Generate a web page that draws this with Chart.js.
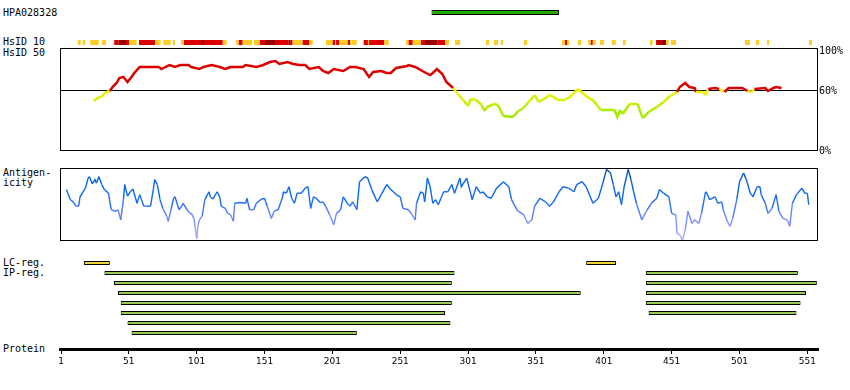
<!DOCTYPE html>
<html><head><meta charset="utf-8"><title>HPA028328</title>
<script src="https://cdn.jsdelivr.net/npm/chart.js@4.4.1/dist/chart.umd.min.js"></script>
<style>
html,body{margin:0;padding:0;background:#fff}
#wrap{position:relative;width:850px;height:390px;overflow:hidden;background:#fff}
.lbl{position:absolute;left:3px;font-family:"DejaVu Sans Mono",monospace;font-size:10px;line-height:12px;height:12px;color:#000;white-space:pre}
canvas{position:absolute;display:block}
</style></head><body><div id="wrap">
<div class="lbl" style="top:7px">HPA028328</div>
<div class="lbl" style="top:36px">HsID 10</div>
<div class="lbl" style="top:47px">HsID 50</div>
<div class="lbl" style="top:167px">Antigen-</div>
<div class="lbl" style="top:177px">icity</div>
<div class="lbl" style="top:257px">LC-reg.</div>
<div class="lbl" style="top:267px">IP-reg.</div>
<div class="lbl" style="top:343px">Protein</div>
<canvas id="cTop" width="758" height="48" style="left:60px;top:0px"></canvas>
<canvas id="cHs" width="790" height="124" style="left:60px;top:38px"></canvas>
<canvas id="cAnt" width="758" height="74" style="left:60px;top:168px"></canvas>
<canvas id="cReg" width="790" height="140" style="left:40px;top:250px"></canvas>
</div>
<script>
// ---------------- data ----------------
const hpaAntigen = [274, 368];               // antigen fragment (residues)
// HsID 10 identity segments: [start, end, level] level 1=yellow 2=red 3=dark red
const hsid10 = [[13.3,15.5,1],[17,18.9,1],[22.6,28.8,1],[31.2,34.2,1],[39.5,40.3,1],[40.3,43.5,2],[43.5,48.9,3],[48.9,51.3,2],[51.3,56.8,1],[58.5,70.3,2],[70.3,74.5,1],[76.4,81.8,1],[83.5,85,1],[89.4,91.6,1],[91.6,104.2,2],[104.2,106.4,3],[106.4,120.2,2],[120.2,123.1,1],[130,132,1],[132,134.9,2],[134.9,141.8,1],[143.2,147.6,1],[147.6,151.3,2],[151.3,158.7,3],[158.7,168.5,2],[168.5,169.8,3],[169.8,171.7,2],[171.7,179.1,1],[179.1,184,2],[184,186.5,1],[196.3,201.2,1],[201.2,202.9,2],[202.9,203.7,1],[203.7,205.9,2],[205.9,212.3,1],[212.3,214,2],[214,215,1],[215.4,218.9,1],[223.5,224.2,1],[224.2,227.2,2],[227.2,228,1],[228,239.2,2],[239.2,242.5,1],[255.2,257.2,1],[257.2,260.2,2],[260.2,266.3,1],[266.3,269.2,2],[269.2,278.6,3],[278.6,284,2],[284,286.9,1],[291.3,295,1],[314.2,316.4,1],[320.1,323,1],[325.2,326.7,1],[342.2,344.4,1],[370.2,372.4,1],[372.4,373.9,2],[373.9,375.4,1],[382,384.2,1],[389.4,391.4,1],[391.4,392.9,2],[392.9,395.1,1],[398.2,401.2,1],[407,409.8,1],[415.1,417.1,1],[435,437,1],[439.5,441,2],[441,442.4,3],[442.4,443.9,2],[443.9,446.9,3],[446.9,448.8,1],[450.5,454.2,1],[505,508.7,1],[513.2,515.4,1],[521.3,522.8,1],[552.2,554.4,1]];
// HsID 50 identity (%) : [residue, value]
const hsid50 = [[25,49],[29,53],[31,53],[33,57],[37,59],[39,63],[42,67],[44,72],[47,73],[50,68],[53,73],[55,77],[59,83],[64,83],[73,83],[75,81],[81,85],[85,83],[89,85],[95,85],[97,83],[103,81],[106,83],[112,85],[118,83],[122,81],[126,83],[135,83],[137,85],[145,83],[150,85],[155,88],[159,89],[162,86],[168,88],[172,86],[177,85],[181,85],[184,81],[191,83],[194,79],[198,77],[202,81],[209,79],[214,83],[218,83],[224,81],[228,73],[231,78],[237,79],[241,77],[244,77],[248,82],[256,84],[257,85],[262,83],[266,80],[270,77],[273,75],[275,77],[278,81],[282,76],[285,68],[290,62],[294,55],[298,49],[301,44],[303,51],[307,50],[311,45],[313,39],[315,43],[320,46],[323,45],[327,34],[334,33],[338,39],[341,41],[345,47],[350,55],[353,48],[357,51],[361,55],[363,54],[367,50],[372,50],[376,53],[382,61],[387,55],[391,51],[393,50],[397,43],[399,40],[409,40],[411,33],[413,40],[415,36],[420,46],[426,46],[429,34],[430,32],[434,38],[440,43],[445,48],[450,54],[455,58],[457,63],[461,67],[464,63],[468,62],[469,58],[474,58],[476,55],[478,61],[483,62],[486,61],[490,58],[493,62],[503,62],[507,59],[510,58],[512,61],[520,62],[522,59],[526,62],[528,63],[532,62]];
// Antigenicity : [residue, score]
const antigenicity = [[5,70],[6,65],[8,56],[10,53],[12,47],[14,47],[15,60],[19,72],[21,86],[22,88],[24,78],[26,84],[27,79],[29,88],[31,77],[33,70],[36,65],[38,42],[41,40],[43,42],[45,28],[47,56],[48,77],[50,61],[52,67],[54,71],[57,51],[59,63],[62,47],[67,47],[69,70],[70,84],[72,77],[74,56],[76,44],[79,33],[80,26],[82,42],[84,58],[85,60],[88,42],[90,47],[91,51],[94,42],[96,37],[97,37],[99,30],[100,16],[101,2],[102,21],[103,28],[105,33],[107,56],[110,67],[111,60],[113,57],[116,67],[118,60],[119,47],[122,44],[124,37],[126,35],[128,26],[129,51],[133,52],[137,51],[138,58],[140,42],[143,42],[145,51],[148,56],[151,58],[153,47],[156,30],[158,40],[161,42],[164,58],[165,67],[167,65],[169,74],[171,58],[173,51],[175,65],[178,65],[181,72],[183,74],[185,44],[187,60],[189,58],[192,52],[194,53],[196,47],[199,35],[202,21],[204,37],[207,42],[209,60],[212,51],[214,47],[216,53],[219,42],[221,81],[225,88],[227,86],[230,70],[234,53],[237,63],[241,77],[244,70],[246,67],[248,63],[251,60],[253,44],[257,42],[259,37],[262,28],[263,51],[266,67],[268,65],[269,53],[271,86],[273,74],[275,51],[277,56],[279,49],[283,67],[286,67],[289,77],[291,65],[295,86],[296,74],[300,86],[304,56],[307,74],[310,65],[312,67],[315,60],[318,58],[322,72],[327,81],[331,74],[333,56],[337,42],[338,40],[342,35],[345,23],[348,28],[350,47],[354,58],[358,53],[361,47],[364,53],[368,67],[371,74],[375,72],[379,67],[381,77],[385,81],[388,74],[393,51],[397,58],[400,77],[403,98],[406,93],[408,77],[410,60],[412,67],[414,49],[416,74],[419,98],[421,84],[423,67],[425,51],[429,28],[433,42],[436,51],[440,58],[442,70],[445,65],[449,60],[451,37],[454,35],[455,9],[457,7],[459,0],[461,14],[463,40],[466,23],[468,28],[471,23],[473,37],[476,67],[477,65],[479,56],[483,60],[485,51],[488,53],[489,42],[492,26],[494,19],[496,30],[499,56],[501,81],[504,93],[506,84],[509,65],[511,60],[514,74],[516,74],[517,63],[520,51],[522,37],[525,44],[528,63],[530,40],[533,30],[536,28],[538,19],[540,51],[543,63],[547,72],[549,65],[551,65],[552,49]];
const lcRegions = [[18,37],[388,410]];
// IP regions: [track, start, end]
const ipRegions = [[1,33,291],[1,432,544],[2,40,289],[2,432,558],[3,43,384],[3,432,550],[4,45,289],[4,432,546],[5,45,284],[5,434,543],[6,50,288],[7,53,219]];
const proteinTicks = [1,51,101,151,201,251,301,351,401,451,501,551];
const hsTicks = [0,60,100];

// ---------------- styling helpers ----------------
const X_MIN = 0.263, X_MAX = 558.85;
const HS10_COLORS = {1:'#ffcc22', 2:'#dd0000', 3:'#990000'};
const HS_LOW_STOPS = [[30,[150,230,0]],[40,[175,238,0]],[50,[215,240,0]],[60,[245,240,20]]];
const ANT_STOPS = [[0,[175,170,255]],[30,[120,140,255]],[50,[40,110,245]],[60,[10,105,240]],[82,[10,100,230]],[100,[0,55,150]]];
function ramp(stops, v){
  const mix=(a,b,t)=>a.map((x,i)=>Math.round(x+(b[i]-x)*t));
  let c = stops[stops.length-1][1];
  if (v <= stops[0][0]) c = stops[0][1];
  else for (let i=1;i<stops.length;i++){ if (v<=stops[i][0]){ c = mix(stops[i-1][1],stops[i][1],(v-stops[i-1][0])/(stops[i][0]-stops[i-1][0])); break; } }
  return 'rgb('+c.join(',')+')';
}
const hsColor = v => v >= 60 ? '#dd0000' : ramp(HS_LOW_STOPS, v);
const antColor = v => ramp(ANT_STOPS, v);
const boxPlugin = { id:'box', afterDraw(chart){
  const {ctx, chartArea:a} = chart;
  const l=Math.round(a.left), t=Math.round(a.top), r=Math.round(a.right), b=Math.round(a.bottom);
  ctx.save(); ctx.strokeStyle='#000'; ctx.lineWidth=1;
  ctx.strokeRect(l+0.5, t+0.5, r-l-1, b-t); ctx.restore();
}};
const baseOpts = { responsive:false, animation:false, devicePixelRatio:1,
  plugins:{legend:{display:false}, tooltip:{enabled:false}} };
const hiddenX = {type:'linear', min:X_MIN, max:X_MAX, display:false};

// ---------------- top rows ----------------
new Chart(document.getElementById('cTop'), {
  type:'bar',
  data:{datasets:[
    {data:[{y:0, x:hpaAntigen}], backgroundColor:'#22aa00', borderColor:'#000', borderWidth:1, borderSkipped:false, barThickness:5, grouped:false, inflateAmount:0},
    {data:hsid10.map(s=>({y:1, x:[s[0], s[1]]})), backgroundColor:ctx=>HS10_COLORS[hsid10[ctx.dataIndex][2]], borderWidth:0, barThickness:5, grouped:false, inflateAmount:0}
  ]},
  options:Object.assign({}, baseOpts, {indexAxis:'y', layout:{padding:0},
    scales:{x:hiddenX, y:{type:'linear', reverse:true, offset:false, min:-12.5/30, max:35.5/30, display:false}}})
});

// ---------------- HsID 50 ----------------
new Chart(document.getElementById('cHs'), {
  type:'line',
  data:{datasets:[{data:hsid50.map(p=>({x:p[0], y:p[1]})), borderColor:'#dd0000', borderWidth:2.5, pointRadius:0, tension:0,
    segment:{borderColor:ctx=>hsColor((ctx.p0.parsed.y+ctx.p1.parsed.y)/2)}}]},
  options:Object.assign({}, baseOpts, {layout:{padding:{top:10,bottom:12,left:0,right:0}},
    scales:{x:hiddenX,
      y:{type:'linear', position:'right', min:0, max:102,
        afterBuildTicks:s=>{s.ticks = hsTicks.map(v=>({value:v}));},
        afterFit:s=>{s.width = 32;},
        ticks:{padding:1, labelOffset:1, color:'#000', font:{family:'DejaVu Sans Mono', size:10}, callback:v=>v+'%'},
        grid:{drawTicks:false, lineWidth:1, color:c=>(c.tick && c.tick.value===60) ? '#000' : 'rgba(0,0,0,0)'},
        border:{display:false}}}}),
  plugins:[boxPlugin]
});

// ---------------- Antigenicity ----------------
new Chart(document.getElementById('cAnt'), {
  type:'line',
  data:{datasets:[{data:antigenicity.map(p=>({x:p[0], y:p[1]})), borderColor:'#1166ee', borderWidth:1.4, pointRadius:0, tension:0,
    segment:{borderColor:ctx=>antColor((ctx.p0.parsed.y+ctx.p1.parsed.y)/2)}}]},
  options:Object.assign({}, baseOpts, {layout:{padding:{top:0,bottom:2,left:0,right:0}},
    scales:{x:hiddenX, y:{type:'linear', min:0, max:100, display:false}}}),
  plugins:[boxPlugin]
});

// ---------------- regions + protein axis ----------------
new Chart(document.getElementById('cReg'), {
  type:'bar',
  data:{datasets:[
    {data:lcRegions.map(r=>({y:0, x:r})), backgroundColor:'#eed535', borderColor:'#000', borderWidth:1, borderSkipped:false, barThickness:4, grouped:false, inflateAmount:0},
    {data:ipRegions.map(r=>({y:r[0], x:[r[1], r[2]]})), backgroundColor:'#99cc55', borderColor:'#000', borderWidth:1, borderSkipped:false, barThickness:4, grouped:false, inflateAmount:0}
  ]},
  options:Object.assign({}, baseOpts, {indexAxis:'y', layout:{padding:{left:20,right:12,top:8,bottom:0}},
    scales:{
      x:{type:'linear', position:'bottom', min:X_MIN, max:X_MAX,
        afterBuildTicks:s=>{s.ticks = proteinTicks.map(v=>({value:v}));},
        afterFit:s=>{s.height = 40.5;},
        ticks:{autoSkip:false, maxRotation:0, padding:2, color:'#000', font:{family:'DejaVu Sans', size:9}},
        grid:{display:true, drawOnChartArea:false, drawTicks:true, tickLength:4.5, color:'#000', lineWidth:1},
        border:{display:true, color:'#000', width:3}},
      y:{type:'linear', reverse:true, offset:false, min:-0.5, max:8.65, display:false}
    }})
});
</script>
</body></html>
